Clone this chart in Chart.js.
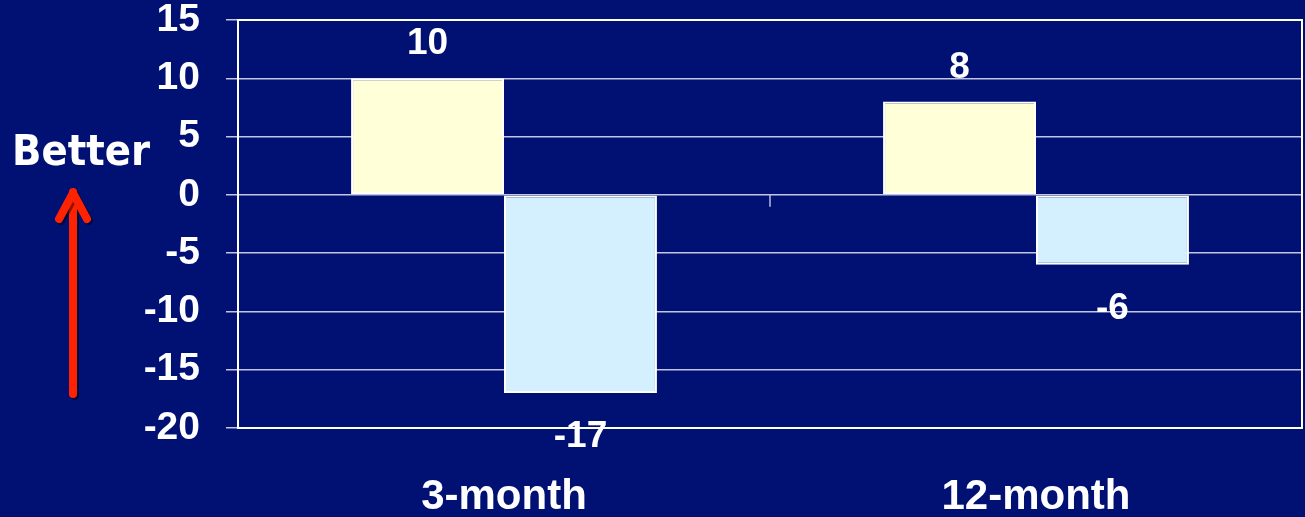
<!DOCTYPE html>
<html>
<head>
<meta charset="utf-8">
<script src="https://cdn.jsdelivr.net/npm/chart.js@4/dist/chart.umd.min.js"></script>
<style>
  html, body { margin: 0; padding: 0; background: #001173; }
  #wrap { width: 1305px; height: 517px; }
</style>
</head>
<body>
<div id="wrap"><canvas id="chart"></canvas></div>
<script>
// data
var categories = ["3-month", "12-month"];
var firstValues = [10, 8];
var secondValues = [-17, -6];
var yTicks = [15, 10, 5, 0, -5, -10, -15, -20];

var navy = "#001173";

// background, side note and red arrow
var decorPlugin = {
  id: "decor",
  beforeDraw: function(chart) {
    var ctx = chart.ctx;
    ctx.save();
    ctx.fillStyle = navy;
    ctx.fillRect(0, 0, chart.width, chart.height);
    ctx.restore();
  },
  afterDraw: function(chart) {
    var ctx = chart.ctx;
    var area = chart.chartArea;
    var x = chart.scales.x;
    var y = chart.scales.y;
    ctx.save();
    // top and right border of the plot
    ctx.strokeStyle = "#ffffff";
    ctx.lineWidth = 2;
    ctx.beginPath();
    ctx.moveTo(area.left, area.top);
    ctx.lineTo(area.right, area.top);
    ctx.lineTo(area.right, area.bottom);
    ctx.stroke();
    // little tick between the categories on the zero line
    var mid = (x.getPixelForValue(0) + x.getPixelForValue(1)) / 2;
    var zero = y.getPixelForValue(0);
    ctx.strokeStyle = "#b8bce0";
    ctx.lineWidth = 1.5;
    ctx.beginPath();
    ctx.moveTo(mid, zero);
    ctx.lineTo(mid, zero + 12);
    ctx.stroke();

    // "Better" note
    ctx.fillStyle = "#ffffff";
    ctx.font = "bold 43px 'DejaVu Sans Condensed', 'DejaVu Sans'";
    ctx.textAlign = "left";
    ctx.textBaseline = "alphabetic";
    ctx.fillText("Better", 12, 165);

    // red arrow
    ctx.strokeStyle = "#ff2200";
    ctx.lineWidth = 8;
    ctx.lineCap = "round";
    ctx.lineJoin = "round";
    ctx.shadowColor = "rgba(0,0,0,0.45)";
    ctx.shadowOffsetX = 2;
    ctx.shadowOffsetY = 2;
    ctx.beginPath();
    ctx.moveTo(73, 394);
    ctx.lineTo(73, 192);
    ctx.stroke();
    ctx.beginPath();
    ctx.moveTo(59, 219);
    ctx.lineTo(73, 193);
    ctx.lineTo(87, 219);
    ctx.stroke();
    ctx.restore();
  }
};

// value labels above / below each bar
var valueLabels = {
  id: "valueLabels",
  afterDatasetsDraw: function(chart) {
    var ctx = chart.ctx;
    ctx.save();
    ctx.fillStyle = "#ffffff";
    ctx.font = "bold 37px 'Liberation Sans', Arial";
    ctx.textAlign = "center";
    ctx.textBaseline = "middle";
    chart.data.datasets.forEach(function(ds, i) {
      chart.getDatasetMeta(i).data.forEach(function(bar, j) {
        var v = ds.data[j];
        var ty = v >= 0 ? bar.y - 34 : bar.y + 44;
        ctx.fillText(String(v), bar.x, ty);
      });
    });
    ctx.restore();
  }
};

new Chart(document.getElementById("chart"), {
  type: "bar",
  data: {
    labels: categories,
    datasets: [
      {
        data: firstValues,
        backgroundColor: "#ffffd8",
        borderColor: "#ffffff",
        borderWidth: 2,
        borderSkipped: false
      },
      {
        data: secondValues,
        backgroundColor: "#d4effd",
        borderColor: "#ffffff",
        borderWidth: 2,
        borderSkipped: false
      }
    ]
  },
  options: {
    responsive: true,
    maintainAspectRatio: false,
    animation: false,
    layout: { padding: { top: 20, right: 3, left: 0, bottom: 0 } },
    plugins: {
      legend: { display: false },
      tooltip: { enabled: false }
    },
    datasets: {
      bar: { categoryPercentage: 0.575, barPercentage: 1.0 }
    },
    scales: {
      x: {
        grid: { display: false },
        border: { display: true, color: "#ffffff", width: 2 },
        ticks: {
          color: "#ffffff",
          font: { family: "'Liberation Sans', Arial", size: 42, weight: "bold" },
          padding: 36
        },
        afterFit: function(scale) { scale.height = 89; }
      },
      y: {
        min: -20,
        max: 15,
        afterBuildTicks: function(scale) {
          scale.ticks = yTicks.map(function(v) { return { value: v }; });
        },
        grid: {
          color: "#c4c6e0",
          lineWidth: 1.5,
          tickLength: 12,
          drawTicks: true
        },
        border: { display: true, color: "#ffffff", width: 2 },
        ticks: {
          color: "#ffffff",
          font: { family: "'Liberation Sans', Arial", size: 39, weight: "bold" },
          padding: 26
        },
        afterFit: function(scale) {
          scale.width = 238;
          scale.paddingTop = 0;
          scale.paddingBottom = 0;
        }
      }
    }
  },
  plugins: [decorPlugin, valueLabels]
});
</script>
</body>
</html>
